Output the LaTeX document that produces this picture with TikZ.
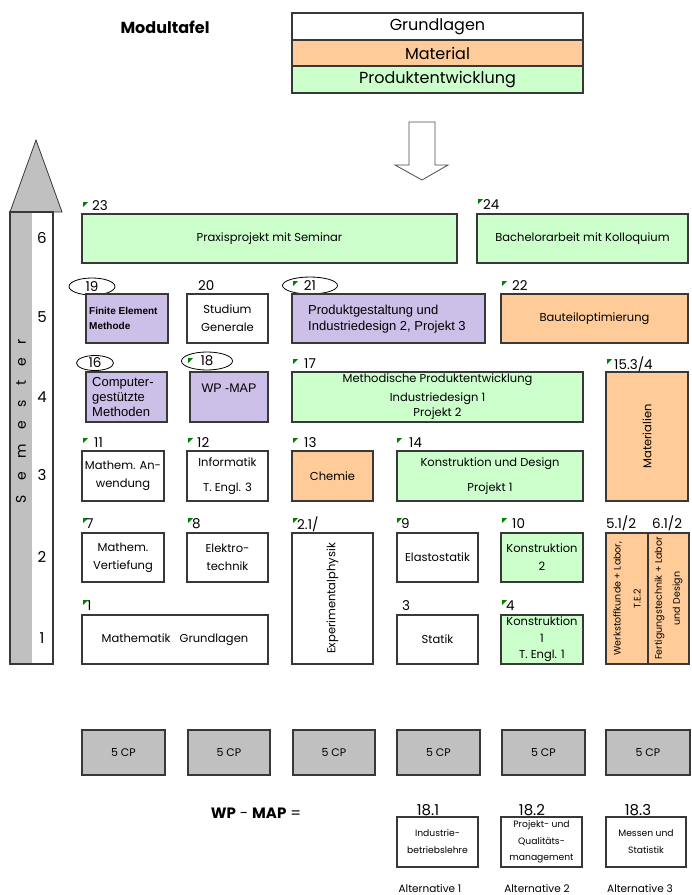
\documentclass[tikz,border=0pt]{standalone}
\usepackage{fontspec}
\setmainfont{Poppins}
\newfontfamily\arialf{Liberation Sans}
\usetikzlibrary{shapes.geometric}
\definecolor{grn}{HTML}{CCFFCC}
\definecolor{org}{HTML}{FFCC99}
\definecolor{lav}{HTML}{CCC0E8}
\definecolor{gry}{HTML}{C0C0C0}
\definecolor{bd}{HTML}{383838}
\definecolor{mkg}{HTML}{008000}
\newcommand\mf{\fontsize{11.5}{18}\selectfont}
\newcommand\lf{\fontsize{13.5}{16}\selectfont}
\newcommand\bx[7]{\node[mod,#6,minimum width={(#4-#2)*1pt},minimum height={(#5-#3)*1pt}] (#1) at ({(#2+#4)/2},{(#3+#5)/2}) {#7};}
\newcommand\mk[2]{\fill[mkg] (#1,#2) -- ++(5,0) -- ++(-5,5) -- cycle;}
\tikzset{
  mod/.style={draw=bd, line width=1.1pt, inner sep=1pt, align=center, font=\mf},
  lab/.style={anchor=west, inner sep=0pt, font=\lf},
  ell/.style={ellipse, draw=black, line width=0.8pt, inner sep=0pt, font=\lf},
  arl/.style={anchor=west, inner sep=0pt, align=left, font=\arialf\fontsize{13}{15.5}\selectfont},
  rot/.style={rotate=90, align=center, inner sep=0pt},
}
\begin{document}
\begin{tikzpicture}[x=1pt,y=-1pt]
\useasboundingbox (0,0) rectangle (692,895);
% title and legend
\node[font=\bfseries\fontsize{16}{18}\selectfont] (title) at (165,27) {Modultafel};
\bx{lg1}{292}{13}{583}{40}{fill=white,font=\fontsize{16}{18}\selectfont}{Grundlagen}
\bx{lg2}{292}{40}{583}{66}{fill=org,font=\fontsize{16}{18}\selectfont}{Material}
\bx{lg3}{292}{66}{583}{93}{fill=grn,font=\fontsize{16}{18}\selectfont}{Produktentwicklung}
\draw[draw=gray!60!black, fill=white, line width=0.8pt] (409,122) -- (435,122) -- (435,165) -- (448,165) -- (422,180) -- (395,165) -- (409,165) -- cycle;
% semester arrow
\draw[draw=bd, fill=gry, line width=0.8pt] (36,140) -- (62,212) -- (10,212) -- cycle;
\fill[gry] (10,212) rectangle (32,664);
\draw[draw=bd, line width=1.1pt] (10,212) rectangle (53,664);
\node[rot, font=\fontsize{14}{16}\selectfont] (semtxt) at (21,421) {S\quad e\quad m\quad e\quad s\quad t\quad e\quad r};
\foreach \n/\yy in {6/238,5/317,4/397,3/475,2/557,1/638}
  \node[font=\fontsize{15}{16}\selectfont] (sn\n) at (42,\yy) {\n};
% ellipses
\node[ell, minimum width=46pt, minimum height=17pt] (e19) at (92,286.5) {19};
\node[ell, minimum width=55pt, minimum height=17pt] (e21) at (310,285.5) {21};
\node[ell, minimum width=37pt, minimum height=15pt] (e16) at (95,363) {16};
\node[ell, minimum width=51pt, minimum height=18pt] (e18) at (207,361) {18};
% row 6
\bx{m23}{82}{214}{457}{263}{fill=grn}{Praxisprojekt mit Seminar}
\bx{m24}{477}{214}{688}{263}{fill=grn}{Bachelorarbeit mit Kolloquium}
% row 5
\bx{m19}{86}{294}{168}{343}{fill=lav}{}
\node[arl, font=\arialf\bfseries\fontsize{10}{15}\selectfont] (t19) at (89,318) {Finite Element\\Methode};
\bx{m20}{187}{294}{268}{343}{fill=white}{Studium\\Generale}
\bx{m21}{292}{294}{485}{343}{fill=lav}{}
\node[arl] (t21) at (308,319) {Produktgestaltung und\\Industriedesign 2, Projekt 3};
\bx{m22}{501}{294}{688}{343}{fill=org}{Bauteiloptimierung}
% row 4
\bx{m16}{86}{372}{167}{422}{fill=lav}{}
\node[arl, font=\arialf\fontsize{13}{15}\selectfont] (t16) at (92,397) {Computer-\\gestützte\\Methoden};
\bx{m18}{190}{372}{268}{422}{fill=lav,font=\arialf\fontsize{12.5}{15}\selectfont}{WP -MAP\\[3pt]}
\bx{m17}{292}{372}{583}{422}{fill=grn}{Methodische Produktentwicklung\\[1pt]Industriedesign 1\\[-3pt]Projekt 2}
\bx{m153}{606}{372}{688}{501}{fill=org}{}
\node[rot, font=\mf] (t153) at (m153.center) {Materialien};
% row 3
\bx{m11}{82}{451}{164}{501}{fill=white}{Mathem. An-\\wendung}
\bx{m12}{187}{451}{268}{501}{fill=white}{Informatik\\[7pt]T. Engl. 3}
\bx{m13}{292}{451}{373}{501}{fill=org}{Chemie}
\bx{m14}{397}{451}{583}{501}{fill=grn}{Konstruktion und Design\\[7pt]Projekt 1}
% row 2
\bx{m7}{82}{533}{164}{582}{fill=white}{Mathem.\\Vertiefung}
\bx{m8}{187}{533}{268}{582}{fill=white}{Elektro-\\technik}
\bx{m2}{292}{533}{373}{664}{fill=white}{}
\node[rot, font=\mf] (t2) at (m2.center) {Experimentalphysik};
\bx{m9}{397}{533}{478}{582}{fill=white}{Elastostatik}
\bx{m10}{501}{533}{583}{582}{fill=grn}{Konstruktion\\2}
\bx{m5}{606}{533}{648}{664}{fill=org}{}
\node[rot, font=\fontsize{9.5}{20}\selectfont] (t5) at (m5.center) {Werkstoffkunde + Labor,\\T.E.2};
\bx{m6}{648}{533}{689}{664}{fill=org}{}
\node[rot, font=\fontsize{9.5}{18}\selectfont] (t6) at (m6.center) {Fertigungstechnik + Labor\\und Design};
% row 1
\bx{m1}{82}{615}{268}{664}{fill=white}{Mathematik\hspace{9pt}Grundlagen}
\bx{m3}{397}{615}{478}{664}{fill=white}{Statik}
\bx{m4}{501}{615}{583}{664}{fill=grn,font=\fontsize{11.5}{16.5}\selectfont}{Konstruktion\\1\\T. Engl. 1}
% labels
\mk{83}{202}\node[lab] (l23) at (92,206) {23};
\mk{478}{199}\node[lab] (l24) at (483,205) {24};
\mk{293}{281}
\mk{502}{281}\node[lab] (l22) at (512,286) {22};
\node[lab] (l20) at (198,286) {20};
\mk{188}{358}
\mk{293}{359}\node[lab] (l17) at (304,364) {17};
\mk{607}{359}\node[lab] (l153) at (614,364) {15.3/4};
\mk{83}{438}\node[lab] (l11) at (94,443) {11};
\mk{188}{438}\node[lab] (l12) at (197,443) {12};
\mk{293}{438}\node[lab] (l13) at (304,443) {13};
\mk{397}{438}\node[lab] (l14) at (409,443) {14};
\mk{83}{518}\node[lab] (l7) at (86,524) {7};
\mk{188}{518}\node[lab] (l8) at (192,524) {8};
\mk{293}{518}\node[lab] (l2) at (297,524) {2.1/};
\mk{397}{518}\node[lab] (l9) at (401,524) {9};
\mk{502}{518}\node[lab] (l10) at (512,524) {10};
\node[lab] (l5) at (606,523) {5.1/2};
\node[lab] (l6) at (652,523) {6.1/2};
\mk{83}{600}\node[lab] (l1) at (87,606) {1};
\node[lab] (l3) at (402,606) {3};
\mk{502}{600}\node[lab] (l4) at (506,606) {4};
% credit points
\foreach \i/\xa/\xb in {1/82/165,2/188/270,3/293/375,4/397/480,5/502/585,6/606/690}
  \bx{cp\i}{\xa}{730}{\xb}{775}{fill=gry,font=\fontsize{11}{13}\selectfont}{5 CP};
% WP-MAP
\node[font=\fontsize{15}{17}\selectfont] (wp) at (256,813) {\textbf{WP} - \textbf{MAP} =};
\node[font=\fontsize{15}{17}\selectfont] (n181) at (428,810) {18.1};
\node[font=\fontsize{15}{17}\selectfont] (n182) at (532,810) {18.2};
\node[font=\fontsize{15}{17}\selectfont] (n183) at (638,810) {18.3};
\bx{a1}{397}{817}{478}{867}{fill=white,font=\fontsize{9.2}{17}\selectfont}{Industrie-\\betriebslehre}
\bx{a2}{501}{817}{582}{867}{fill=white,font=\fontsize{9.2}{16.5}\selectfont}{Projekt- und\\Qualitäts-\\management}
\bx{a3}{606}{817}{686}{867}{fill=white,font=\fontsize{9.2}{17}\selectfont}{Messen und\\Statistik}
\node[font=\fontsize{10.5}{12}\selectfont] (alt1) at (430,889) {Alternative 1};
\node[font=\fontsize{10.5}{12}\selectfont] (alt2) at (537,889) {Alternative 2};
\node[font=\fontsize{10.5}{12}\selectfont] (alt3) at (640,889) {Alternative 3};
\end{tikzpicture}
\end{document}
